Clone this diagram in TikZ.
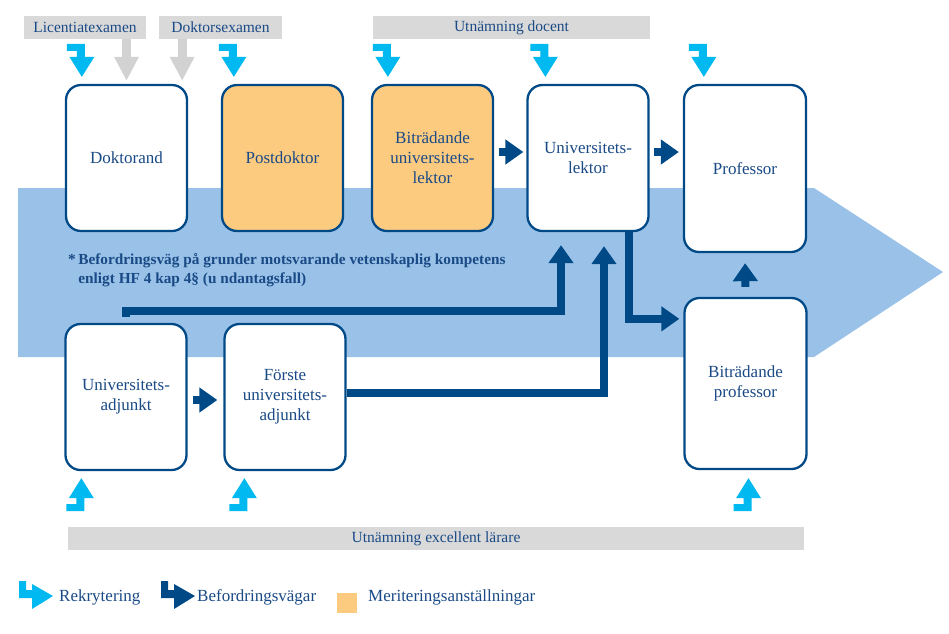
\documentclass[tikz,border=0pt]{standalone}
\usepackage{fontspec}
\setmainfont{Liberation Serif}
\usetikzlibrary{arrows.meta,positioning,calc}
\definecolor{navy}{RGB}{0,73,135}
\definecolor{navytext}{RGB}{26,74,134}
\definecolor{bandbla}{RGB}{154,194,232}
\definecolor{rekrbla}{RGB}{0,185,240}
\definecolor{meritorange}{RGB}{253,203,128}
\definecolor{bargray}{RGB}{217,217,217}
\definecolor{pilgray}{RGB}{210,210,210}
\newcommand\rutfont{\fontsize{17}{20}\selectfont}
\newcommand\barfont{\fontsize{15.5}{18}\selectfont}
\newcommand\fotfont{\bfseries\fontsize{15.3}{19}\selectfont}
\tikzset{
	>=latex,
	post/.style={draw=navy, line width=2.3pt, rounded corners=15pt, fill=white, minimum width=121pt, minimum height=146pt, text=navytext, align=center, font=\rutfont, inner sep=2pt},
	merit/.style={post, fill=meritorange},
	bar/.style={fill=bargray, minimum height=23pt, inner sep=0pt, text=navytext, font=\barfont},
	legtext/.style={anchor=west, inner sep=0pt, text=navytext, font=\rutfont},
	befor/.style={draw=navy, line width=8pt, -{Triangle[length=18pt,width=24pt]}},
	examen/.style={draw=pilgray, line width=9pt, -{Triangle[length=24pt,width=23pt]}},
	rekr/.pic={\fill[rekrbla] (-15,-33) -- (3,-33) -- (3,-20) -- (12.5,-20) -- (0,0) -- (-12.5,-20) -- (-5,-20) -- (-5,-26) -- (-15,-26) -- cycle;},
	pics/legpil/.style={code={\fill[#1] (-34,-15) -- (-27,-15) -- (-27,-6) -- (-21,-6) -- (-21,-12) -- (0,0) -- (-21,13) -- (-21,2) -- (-34,2) -- cycle;}}
}
\begin{document}
\begin{tikzpicture}[x=1pt,y=-1pt]
	\useasboundingbox (0,0) rectangle (949,633);
	% band
	\fill[bandbla] (18,188) -- (814,188) -- (943,272) -- (814,357) -- (18,357) -- cycle;
	% footnote
	\node (fot) [anchor=base west, align=left, inner sep=0pt, text=navytext, font=\fotfont] at (68,283) {*\,Befordringsväg på grunder motsvarande vetenskaplig kompetens\\\phantom{*\,}enligt HF 4 kap 4§ (u ndantagsfall)};
	% bars
	\node[bar, minimum width=122pt] (lic) at (85,27.5) {Licentiatexamen};
	\node[bar, minimum width=123pt] (dok) at (220.5,27.5) {Doktorsexamen};
	\node[bar, minimum width=277pt] (doc) at (511.5,27.5) {Utnämning docent};
	\node[bar, minimum width=736pt] (exc) at (436,538.5) {Utnämning excellent lärare};
	% boxes
	\node[post] (dr) at (126.5,158) {Doktorand};
	\node[merit] (pd) at (282.5,158) {Postdoktor};
	\node[merit] (bl) at (432.5,158) {Biträdande\\universitets-\\lektor};
	\node[post] (lek) at (588,158) {Universitets-\\lektor};
	\node[post, minimum width=122pt, minimum height=167pt] (prof) at (745,168.5) {Professor};
	\node[post, minimum width=122pt, minimum height=171pt] (bp) at (745.5,383.5) {Biträdande\\professor};
	\node[post] (adj) at (126,397) {Universitets-\\adjunkt};
	\node[post] (fa) at (285,397) {Förste\\universitets-\\adjunkt};
	% befordringsvägar
	\draw[befor] ([yshift=6pt]adj.north) -- ++(0,-6) -| ([xshift=-27pt,yshift=-13pt]lek.south);
	\draw[befor] ([yshift=4pt]fa.east) -| ([xshift=16pt,yshift=-14pt]lek.south);
	\draw[befor, shorten >=4pt] ([xshift=41pt]lek.south) |- ([yshift=-22pt]bp.north west);
	\coordinate (bl-ut) at ([yshift=6pt]bl.east);
	\draw[befor, shorten <=5pt, shorten >=3pt] (bl-ut) -- (bl-ut -| lek.west);
	\coordinate (lek-ut) at ([yshift=6pt]lek.east);
	\draw[befor, shorten <=4pt, shorten >=4pt] (lek-ut) -- (lek-ut -| prof.west);
	\draw[befor, shorten <=10pt, shorten >=10pt] (bp.north) -- (prof.south);
	\coordinate (adj-ut) at ([yshift=-3pt]adj.east);
	\draw[befor, shorten <=5pt, shorten >=6pt] (adj-ut) -- (adj-ut -| fa.west);
	% examen
	\draw[examen, shorten >=3pt] (lic.south -| dr.north) -- (dr.north);
	\coordinate (dr-in) at ([xshift=-6pt]dr.north east);
	\draw[examen, shorten >=3pt] (dok.south -| dr-in) -- (dr-in);
	% rekrytering
	\pic at ([xshift=17pt,yshift=7pt]dr.north west) {rekr};
	\pic at ([xshift=13pt,yshift=7pt]pd.north west) {rekr};
	\pic at ([xshift=17pt,yshift=7pt]bl.north west) {rekr};
	\pic at ([xshift=19pt,yshift=7pt]lek.north west) {rekr};
	\pic at ([xshift=21pt,yshift=7pt]prof.north west) {rekr};
	\pic[yscale=-1] at ([xshift=17pt,yshift=-7pt]adj.south west) {rekr};
	\pic[yscale=-1] at ([xshift=21pt,yshift=-7pt]fa.south west) {rekr};
	\pic[yscale=-1] at ([xshift=3pt,yshift=-8pt]bp.south) {rekr};
	% legend
	\pic at (53,596) {legpil=rekrbla};
	\node[legtext] (leg-rekr) at (59,597) {Rekrytering};
	\pic at (195,596) {legpil=navy};
	\node[legtext] (leg-befor) at (197,597) {Befordringsvägar};
	\node[fill=meritorange, minimum size=20pt, inner sep=0pt] (leg-merit) at (347,602.5) {};
	\node[legtext] (leg-merittext) at (368,597) {Meriteringsanställningar};
\end{tikzpicture}
\end{document}
